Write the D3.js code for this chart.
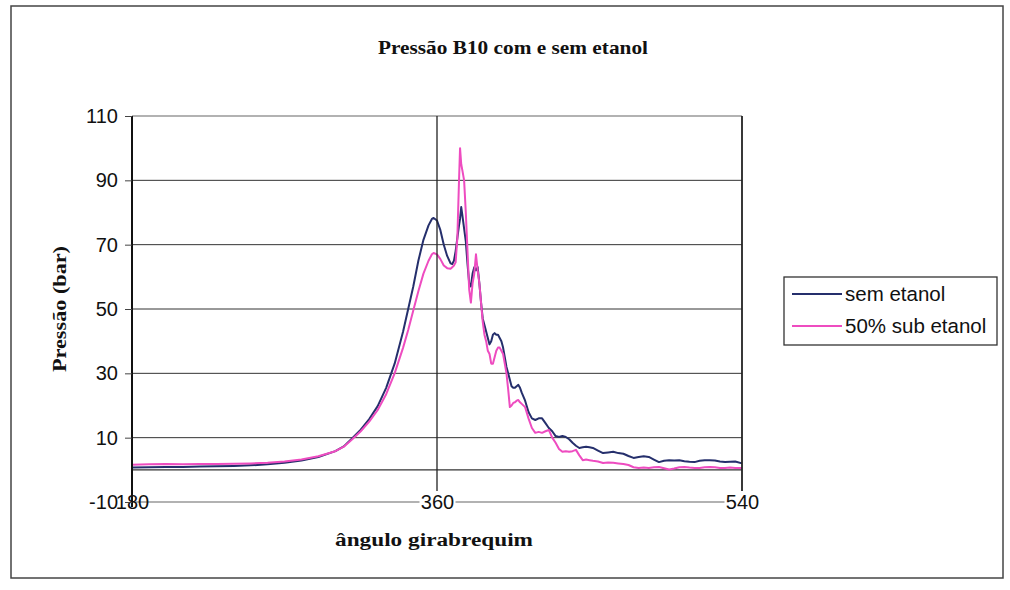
<!DOCTYPE html>
<html><head><meta charset="utf-8">
<script src="https://cdn.jsdelivr.net/npm/d3@7"></script>
<style>html,body{margin:0;padding:0;background:#fff;}svg{display:block;}</style>
</head><body>
<svg id="chart" width="1010" height="590"></svg>
<script>
const title = "Pressão B10 com e sem etanol";
const xTitle = "ângulo girabrequim";
const yTitle = "Pressão (bar)";
const seriesNames = ["sem etanol", "50% sub etanol"];
const xTicks = [180, 360, 540];
const yTicks = [110, 90, 70, 50, 30, 10, -10];

const angles = [180,190,200,210,220,230,240,250,260,270,280,290,300,305,310,315,320,325,330,335,340,343,346,349,352,355,357,358,360,362,364,366,368,369,370,371,372,373,373.6,374.3,375,376,377,378,379,380,381,382,383,384,385,386,387,388,389,390,391,392,393,394,395,396,397,398,399,400,401,402,403,404,405,406,407,408,409,410,412,414,416,418,420,422,424,426,428,430,432,434,436,438,440,442,444,446,448,450,452,455,458,461,464,467,470,473,476,479,482,485,488,491,494,497,500,503,506,509,512,515,518,521,524,527,530,533,536,540];

const semEtanol = [0.7,0.8,0.9,0.9,1.0,1.1,1.2,1.4,1.7,2.2,2.9,4.0,5.8,7.3,9.8,12.5,15.8,19.8,25.5,33,43,50,57,65,71.5,76,78,78.3,77.5,74.5,70,66.5,64.2,64,65,68,72,76,78,81.7,79,75,71,64,58,57,61,63,62,63,58,52,47,45,43,41,39,40,42,42.5,42,42,41,40,38,35,32,30,28,26,25.5,25.5,26,26.4,25.5,24,21.5,18,16,15.5,16,16,14.5,13,12,10.5,10.2,10.5,10.2,9.5,8.4,7.5,6.8,7.0,7.2,7.0,6.8,6.0,5.2,5.4,5.6,5.2,5.0,4.3,3.7,4.0,4.2,4.0,3.2,2.4,2.8,3.0,2.9,3.0,2.7,2.5,2.4,2.8,3.0,3.0,2.9,2.6,2.4,2.5,2.6,2.0];

const subEtanol = [1.6,1.7,1.8,1.7,1.8,1.8,1.9,2.0,2.2,2.6,3.2,4.2,5.8,7.2,9.5,12.0,15.0,18.6,23.5,30,38,43.5,49.5,55.5,61,65,67,67.4,67,65.5,63.5,62.7,62.5,63,63.5,64.5,72,90,100,95,93,90,80,68,56,52,58,61,67,62,58,52,46,42,40,37,36,33,33,35,37,38,38,37,36,33,30,25,19.5,20,20.8,21,21.5,21.7,21,20.5,19.5,16,13,11.5,11.8,11.5,12,12.4,10,8.4,6.5,5.6,5.8,5.6,5.8,6.2,4.5,3.0,3.2,3.0,2.8,2.6,2.1,2.3,2.2,2.0,1.8,1.5,0.8,0.6,0.7,0.6,0.8,0.9,0.5,0.1,0.4,0.8,0.9,0.7,0.6,0.6,0.8,0.9,0.8,0.6,0.6,0.7,0.6,0.6];

const colors = ["#252f6c", "#ee4cc0"];
const SERIF = "'Liberation Serif', 'Times New Roman', serif";
const SANS = "'Liberation Sans', Arial, sans-serif";

const svg = d3.select("#chart");
const x = d3.scaleLinear().domain([180, 540]).range([132, 742]);
const y = d3.scaleLinear().domain([-10, 110]).range([502, 116]);

// outer frame
svg.append("rect").attr("x", 11).attr("y", 6).attr("width", 992).attr("height", 572)
  .attr("fill", "none").attr("stroke", "#444").attr("stroke-width", 1.5);

// title
svg.append("text").attr("x", 513).attr("y", 54).attr("text-anchor", "middle")
  .attr("font-family", SERIF).attr("font-weight", "bold")
  .attr("font-size", 19).attr("textLength", 270).attr("lengthAdjust", "spacingAndGlyphs")
  .attr("fill", "#111").text(title);

// horizontal gridlines
const gy = yTicks.filter(v => v !== 110 && v !== -10);
svg.append("g").selectAll("line").data(gy).join("line")
  .attr("x1", x(180)).attr("x2", x(540)).attr("y1", d => y(d)).attr("y2", d => y(d))
  .attr("stroke", "#333").attr("stroke-width", 1);
svg.append("line").attr("x1", x(180)).attr("x2", x(540)).attr("y1", y(110)).attr("y2", y(110))
  .attr("stroke", "#999").attr("stroke-width", 1.5);
svg.append("line").attr("x1", x(180)).attr("x2", x(540)).attr("y1", y(-10)).attr("y2", y(-10))
  .attr("stroke", "#999").attr("stroke-width", 1.5);
svg.append("line").attr("x1", x(180)).attr("x2", x(540)).attr("y1", y(0)).attr("y2", y(0))
  .attr("stroke", "#333").attr("stroke-width", 1.2);

// series lines
const line = d3.line().x((d, i) => x(angles[i])).y(d => y(d)).curve(d3.curveLinear);
[semEtanol, subEtanol].forEach((s, k) => {
  svg.append("path").datum(s).attr("d", line).attr("fill", "none")
    .attr("stroke", colors[k]).attr("stroke-width", 2).attr("stroke-linejoin", "round");
});

// x axis labels with white boxes
const xAxis = d3.axisBottom(x).tickValues(xTicks).tickSize(0).tickPadding(0).tickFormat(d => String(d));
const gx = svg.append("g").attr("transform", `translate(0,${y(-10)})`).call(xAxis);
gx.select(".domain").remove();
gx.selectAll(".tick").filter(d => d !== 180).insert("rect", "text")
  .attr("x", -18).attr("y", -11).attr("width", 36).attr("height", 22).attr("fill", "#fff");

// vertical lines
svg.append("line").attr("x1", x(180)).attr("x2", x(180)).attr("y1", y(110)).attr("y2", 507)
  .attr("stroke", "#111").attr("stroke-width", 2);
svg.append("line").attr("x1", x(360)).attr("x2", x(360)).attr("y1", y(110)).attr("y2", 497)
  .attr("stroke", "#222").attr("stroke-width", 1.3);
svg.append("line").attr("x1", x(540)).attr("x2", x(540)).attr("y1", y(110)).attr("y2", y(-10))
  .attr("stroke", "#222").attr("stroke-width", 1.8);

gx.selectAll("text").attr("dy", "0.35em").attr("y", 0)
  .attr("font-family", SANS).attr("font-size", 20).attr("fill", "#111");
gx.raise();

// y axis
const yAxis = d3.axisLeft(y).tickValues(yTicks).tickSize(7).tickPadding(7).tickFormat(d => String(d));
const gyA = svg.append("g").attr("transform", `translate(${x(180)},0)`).call(yAxis);
gyA.select(".domain").remove();
gyA.selectAll(".tick line").attr("stroke", "#444").attr("stroke-width", 1);
gyA.selectAll("text").attr("font-family", SANS).attr("font-size", 20).attr("fill", "#111");

// axis titles
svg.append("text").attr("x", 434).attr("y", 546).attr("text-anchor", "middle")
  .attr("font-family", SERIF).attr("font-weight", "bold")
  .attr("font-size", 18).attr("textLength", 198).attr("lengthAdjust", "spacingAndGlyphs")
  .attr("fill", "#111").text(xTitle);
svg.append("text").attr("transform", "translate(66,309) rotate(-90)").attr("text-anchor", "middle")
  .attr("font-family", SERIF).attr("font-weight", "bold")
  .attr("font-size", 18).attr("textLength", 126).attr("lengthAdjust", "spacingAndGlyphs")
  .attr("fill", "#111").text(yTitle);

// legend
const lg = svg.append("g");
lg.append("rect").attr("x", 784).attr("y", 277).attr("width", 213).attr("height", 68)
  .attr("fill", "#fff").attr("stroke", "#333").attr("stroke-width", 1.3);
seriesNames.forEach((n, i) => {
  const yy = 294 + i * 32;
  lg.append("line").attr("x1", 792).attr("x2", 842).attr("y1", yy).attr("y2", yy)
    .attr("stroke", colors[i]).attr("stroke-width", 2);
  lg.append("text").attr("x", 845).attr("y", yy).attr("dy", "0.35em")
    .attr("font-family", SANS).attr("font-size", 20.5)
    .attr("fill", "#111").text(n);
});
</script>
</body></html>
